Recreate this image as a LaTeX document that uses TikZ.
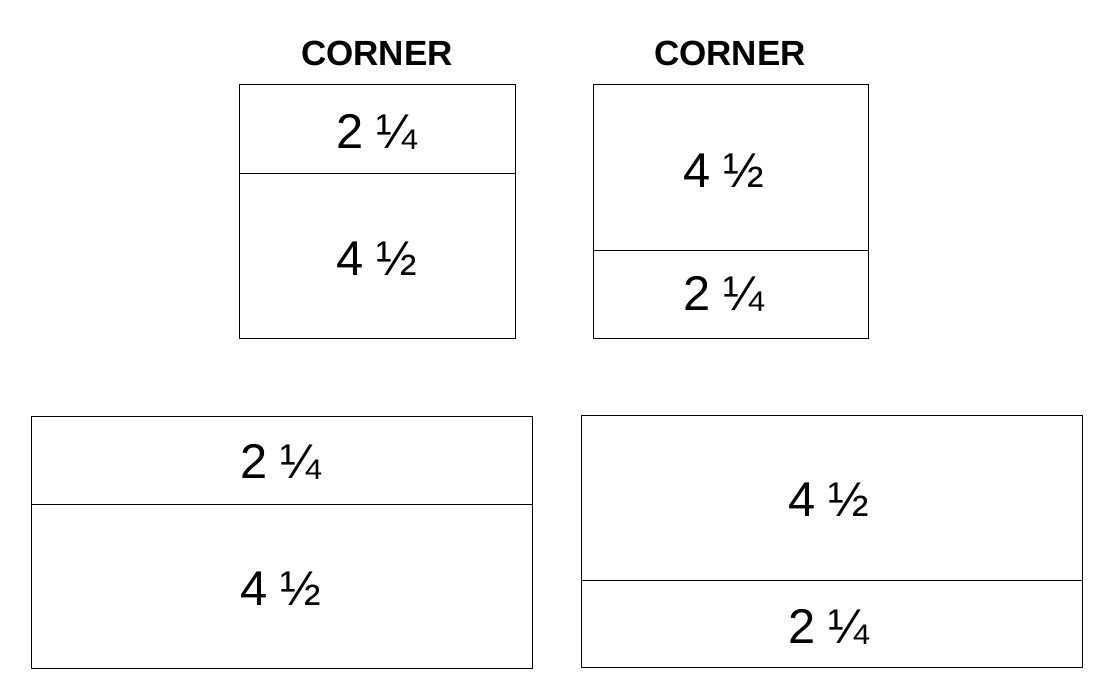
\documentclass[tikz,border=0pt]{standalone}
\usepackage{fontspec}
\setmainfont{Liberation Sans}
\begin{document}
\begin{tikzpicture}[x=0.5pt, y=-0.5pt,
    panel/.style={draw, line width=0.5pt},
    num/.style={font=\fontsize{24.4}{28}\selectfont},
    head/.style={font=\bfseries\fontsize{17.5}{20}\selectfont}]
    \useasboundingbox (0,0) rectangle (1113,690);

    % Headings
    \node[head] (headA) at (377,53) {CORNER};
    \node[head] (headB) at (730,53) {CORNER};

    % Upper left box
    \draw[panel] (239,85) rectangle (515,338);
    \draw[panel] (239,173) -- (515,173);
    \node[num] (a1) at (377,132) {2 ¼};
    \node[num] (a2) at (377,259) {4 ½};

    % Upper right box
    \draw[panel] (593,85) rectangle (868,338);
    \draw[panel] (593,250) -- (868,250);
    \node[num] (b1) at (724,171) {4 ½};
    \node[num] (b2) at (724,294) {2 ¼};

    % Lower left box
    \draw[panel] (31,416) rectangle (532,668);
    \draw[panel] (31,504) -- (532,504);
    \node[num] (c1) at (281,462) {2 ¼};
    \node[num] (c2) at (281,589) {4 ½};

    % Lower right box
    \draw[panel] (581,415) rectangle (1082,667);
    \draw[panel] (581,580) -- (1082,580);
    \node[num] (d1) at (829,500) {4 ½};
    \node[num] (d2) at (829,627) {2 ¼};
\end{tikzpicture}
\end{document}
